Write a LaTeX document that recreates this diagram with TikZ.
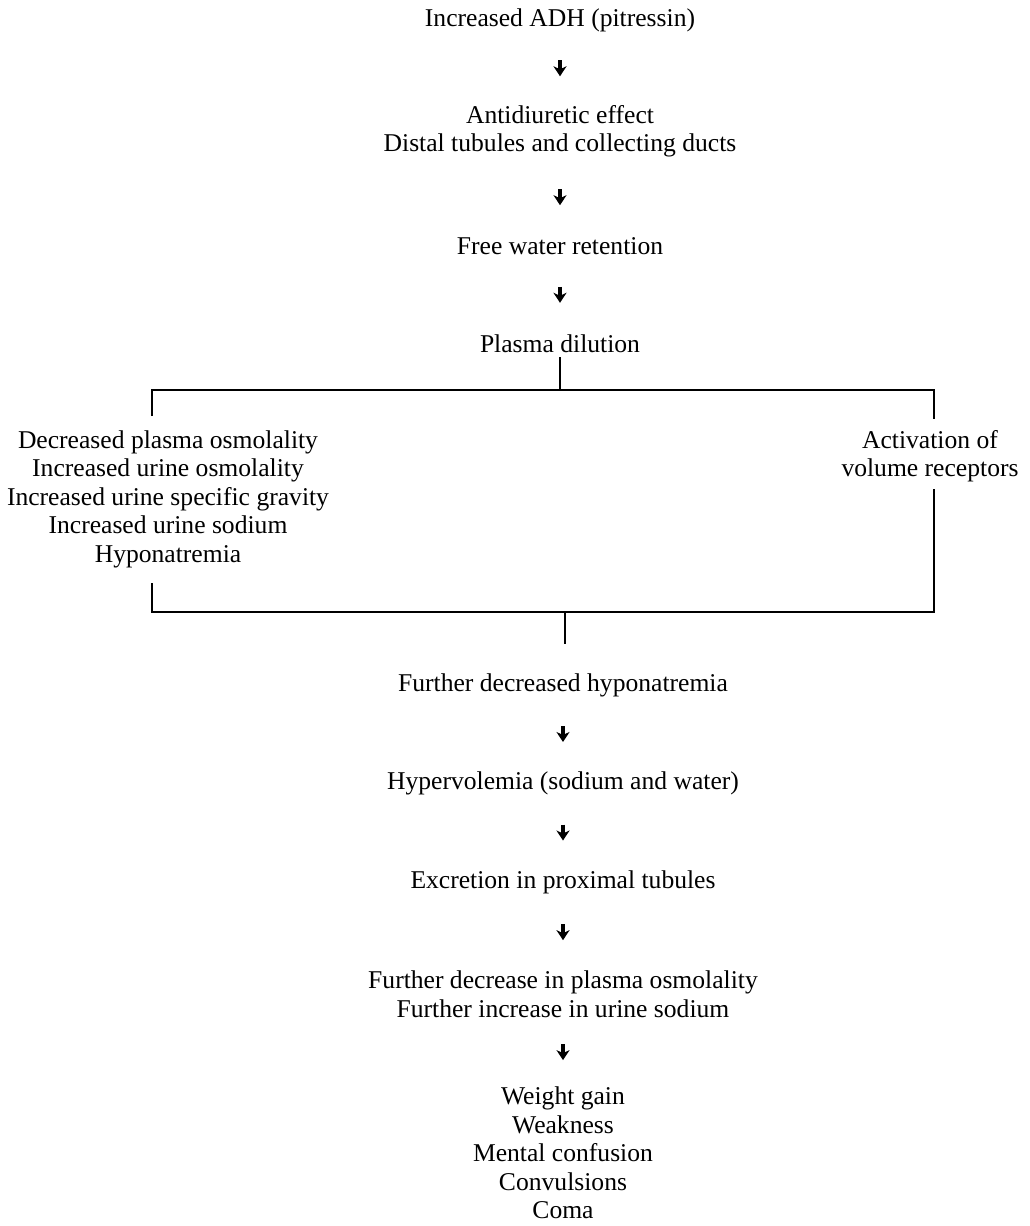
\documentclass[tikz,border=0pt]{standalone}
\usepackage{fontspec}
\setmainfont{Liberation Serif}
\usetikzlibrary{arrows.meta,calc}
% short arrow centred in the gap between two stacked nodes
\newcommand\flowstep[2]{%
  \draw[flow] ($(#1.south)!0.5!(#2.north)+(0,-8)$) -- ($(#1.south)!0.5!(#2.north)+(0,8)$);}
\begin{document}
\begin{tikzpicture}[x=0.5pt,y=-0.5pt,
  txt/.style={align=center, font=\fontsize{12.8}{14.25}\selectfont, inner sep=2pt},
  link/.style={line width=1.45pt},
  flow/.style={line width=1.6pt, -{Stealth[length=5pt,width=6.5pt,inset=1.5pt]}}]
\useasboundingbox (0,0) rectangle (1029,1226);

% upper chain
\node[txt] (adh)  at (560,20)  {Increased ADH (pitressin)};
\node[txt] (anti) at (560,131) {Antidiuretic effect\\Distal tubules and collecting ducts};
\node[txt] (free) at (560,246) {Free water retention};
\node[txt] (pd)   at (560,344) {Plasma dilution};

% the two branches
\node[txt] (lab) at (168,499) {Decreased plasma osmolality\\Increased urine osmolality\\Increased urine specific gravity\\Increased urine sodium\\Hyponatremia};
\node[txt] (vol) at (930,456) {Activation of\\volume receptors};

% lower chain
\node[txt] (fdh) at (563,685)  {Further decreased hyponatremia};
\node[txt] (hyp) at (563,783)  {Hypervolemia (sodium and water)};
\node[txt] (exc) at (563,882)  {Excretion in proximal tubules};
\node[txt] (fdp) at (563,994)  {Further decrease in plasma osmolality\\Further increase in urine sodium};
\node[txt] (sym) at (563,1153) {Weight gain\\Weakness\\Mental confusion\\Convulsions\\Coma};

% bracket corners and free ends
\coordinate (tl)  at (152,390);
\coordinate (tr)  at (934,390);
\coordinate (tle) at (152,416);
\coordinate (tre) at (934,419);
\coordinate (bl)  at (152,612);
\coordinate (br)  at (934,612);
\coordinate (bls) at (152,583);
\coordinate (brs) at (934,489);
\coordinate (bj)  at (565,612);
\coordinate (bje) at (565,644);

\flowstep{adh}{anti}
\flowstep{anti}{free}
\flowstep{free}{pd}

\draw[link] (pd.south) -- (pd.south |- tl);
\draw[link] (tle) -- (tl) -- (tr) -- (tre);
\draw[link] (bls) -- (bl) -- (br) -- (brs);
\draw[link] (bj) -- (bje);

\flowstep{fdh}{hyp}
\flowstep{hyp}{exc}
\flowstep{exc}{fdp}
\flowstep{fdp}{sym}
\end{tikzpicture}
\end{document}
